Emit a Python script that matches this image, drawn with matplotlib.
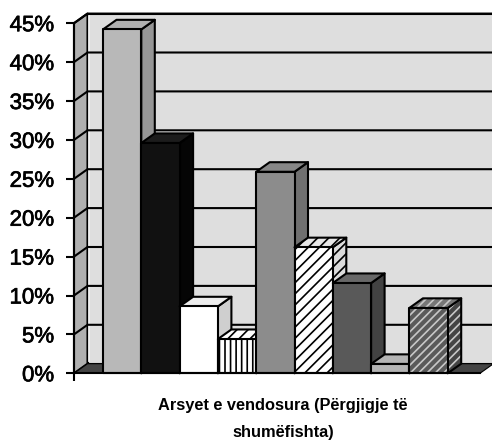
import matplotlib
matplotlib.use("Agg")
import matplotlib.pyplot as plt
import matplotlib.patheffects as pe
from matplotlib.patches import Polygon

plt.rcParams['font.family'] = ['Liberation Sans', 'DejaVu Sans']

# Data
values = [44.2, 29.6, 8.6, 4.4, 25.9, 16.2, 11.6, 1.2, 8.4]
y_ticks = [0, 5, 10, 15, 20, 25, 30, 35, 40, 45]
y_tick_labels = ['0%', '5%', '10%', '15%', '20%', '25%', '30%', '35%', '40%', '45%']
x_title = 'Arsyet e vendosura (Përgjigje të\nshumëfishta)'

# Styles
front = ['#b8b8b8', '#111111', '#ffffff', '#ffffff', '#8c8c8c', '#ffffff', '#595959', '#b4b4b4', '#5a5a5a']
top = ['#b0b0b0', '#1c1c1c', '#ececec', '#ffffff', '#878787', '#e6e6e6', '#686868', '#b4b4b4', '#777777']
side = ['#969696', '#050505', '#cfcfcf', '#dddddd', '#707070', '#dcdcdc', '#424242', '#9a9a9a', '#444444']
hatch_front = [None, None, None, '|||', None, '///', None, None, '////']
hatch_top = [None, None, None, '///', None, '///', None, None, '////']
hatch_side = [None, None, None, None, None, '///', None, None, '////']
hatch_col = ['k', 'k', 'k', 'k', 'k', 'k', 'k', 'k', '#c8c8c8']

W, H = 492, 442
PX0, PX1, PY0, PY_TOP = 74, 480, 373.3, 14.0
BAR_PX, BAR_START = 38.3, 103.0
PX_PER_PCT = 38.9 / 5

fig = plt.figure(figsize=(W / 100, H / 100), dpi=100, facecolor='white')
ax = fig.add_axes([PX0 / W, 1 - PY0 / H, (PX1 - PX0) / W, (PY0 - PY_TOP) / H])
ax.set_xlim((PX0 - BAR_START) / BAR_PX, (PX1 - BAR_START) / BAR_PX)
ax.set_ylim(0, (PY0 - PY_TOP) / PX_PER_PCT)
ax.patch.set_visible(False)

ddx = 13.5 / BAR_PX
ddy = 9.6 / PX_PER_PCT
x_left = ax.get_xlim()[0]
x_right = x_left + (493.5 - PX0) / BAR_PX
LW = 1.5
plt.rcParams['hatch.linewidth'] = 1.2


def poly(pts, fc, hatch=None, hc='k', z=2, lw=LW):
    if hatch:
        ax.add_patch(Polygon(pts, closed=True, facecolor=fc, edgecolor=hc, hatch=hatch,
                             linewidth=0, zorder=z, clip_on=False))
        ax.add_patch(Polygon(pts, closed=True, facecolor='none', edgecolor='k',
                             linewidth=lw, zorder=z, clip_on=False, joinstyle='round'))
    else:
        ax.add_patch(Polygon(pts, closed=True, facecolor=fc, edgecolor='k',
                             linewidth=lw, zorder=z, clip_on=False, joinstyle='round'))


# Walls and floor
ymax = y_ticks[-1]
bx = x_left + ddx
poly([(bx, ddy), (x_right, ddy), (x_right, ymax + ddy), (bx, ymax + ddy)], '#dedede', z=1)
poly([(x_left, 0), (bx, ddy), (bx, ymax + ddy), (x_left, ymax)], '#b0b0b0', z=1)
poly([(x_left, 0), (bx, ddy), (x_right, ddy), (x_right - ddx, 0)], '#444444', z=1.2, lw=0.8)
ax.plot([bx + 0.05, bx + 0.05], [ddy + 0.3, ymax + ddy - 0.3], color='#f4f4f4', lw=1.3,
        zorder=1.1, clip_on=False)
for t in y_ticks[1:]:
    ax.plot([x_left, bx, x_right], [t, t + ddy, t + ddy], color='k', lw=LW, zorder=1.1,
            clip_on=False, solid_capstyle='butt')

# Bars
for i, v in enumerate(values):
    z = 3 + i
    hs = dict(hc=hatch_col[i], z=z)
    poly([(i + 1, 0), (i + 1 + ddx, ddy), (i + 1 + ddx, v + ddy), (i + 1, v)], side[i],
         hatch_side[i], **hs)
    poly([(i, v), (i + ddx, v + ddy), (i + 1 + ddx, v + ddy), (i + 1, v)], top[i],
         hatch_top[i], **hs)
    poly([(i, 0), (i + 1, 0), (i + 1, v), (i, v)], front[i], hatch_front[i], **hs)

# Axes
for s in ('top', 'right'):
    ax.spines[s].set_visible(False)
for s in ('left', 'bottom'):
    ax.spines[s].set_linewidth(LW)
    ax.spines[s].set_zorder(20)
ax.spines['left'].set_bounds(0, ymax)
ax.set_yticks(y_ticks)
ax.set_yticklabels(y_tick_labels, fontsize=16)
for lab in ax.get_yticklabels():
    lab.set_path_effects([pe.withStroke(linewidth=0.5, foreground='k')])
ax.set_xticks([x_left])
ax.set_xticklabels([''])
ax.tick_params(axis='both', length=5.8, width=LW)
ax.tick_params(axis='y', pad=8.5)
fig.text(283 / W, 1 - 419 / H, x_title, ha='center', va='center', fontsize=11.8,
         fontweight='bold', linespacing=1.94)

fig.savefig('out.png', dpi=100)
